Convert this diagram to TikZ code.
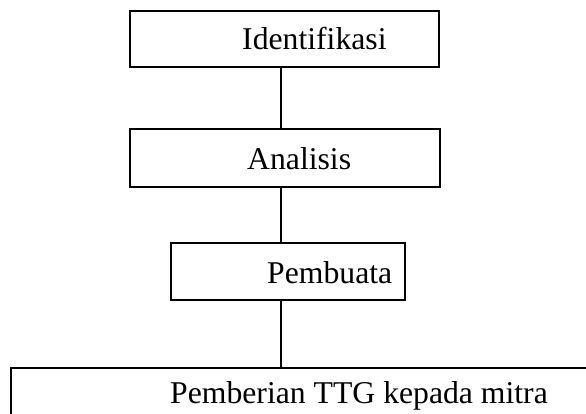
\documentclass[tikz,border=0pt]{standalone}
\usepackage{fontspec}
\setmainfont{Liberation Serif}
\begin{document}
\begin{tikzpicture}[x=1pt,y=1pt,
  boxstyle/.style={draw=black, line width=1.2pt, fill=white, inner sep=0pt},
  lbl/.style={anchor=base west, inner sep=0pt, font=\fontsize{31.7}{38}\selectfont},
  conn/.style={draw=black, line width=1.2pt}]
\useasboundingbox (0,0) rectangle (586,-414);
\clip (0,0) rectangle (586,-414);
% boxes
\node[boxstyle, minimum width=309pt, minimum height=56pt] (b1) at (284.5,-39) {};
\node[boxstyle, minimum width=310pt, minimum height=58pt] (b2) at (285,-158) {};
\node[boxstyle, minimum width=234pt, minimum height=57pt] (b3) at (288,-271.5) {};
\node[boxstyle, minimum width=600pt, minimum height=70pt] (b4) at (311,-403) {};
% connector column
\coordinate (axis) at (281,0);
\draw[conn] (b1.south -| axis) -- (b2.north -| axis);
\draw[conn] (b2.south -| axis) -- (b3.north -| axis);
\draw[conn] (b3.south -| axis) -- (b4.north -| axis);
% labels
\node[lbl] (t1) at (242,-50) {Identifikasi};
\node[lbl] (t2) at (247,-170) {Analisis};
\node[lbl] (t3) at (267,-283) {Pembuata};
\node[lbl] (t4) at (170,-403) {Pemberian TTG kepada mitra};
\end{tikzpicture}
\end{document}
